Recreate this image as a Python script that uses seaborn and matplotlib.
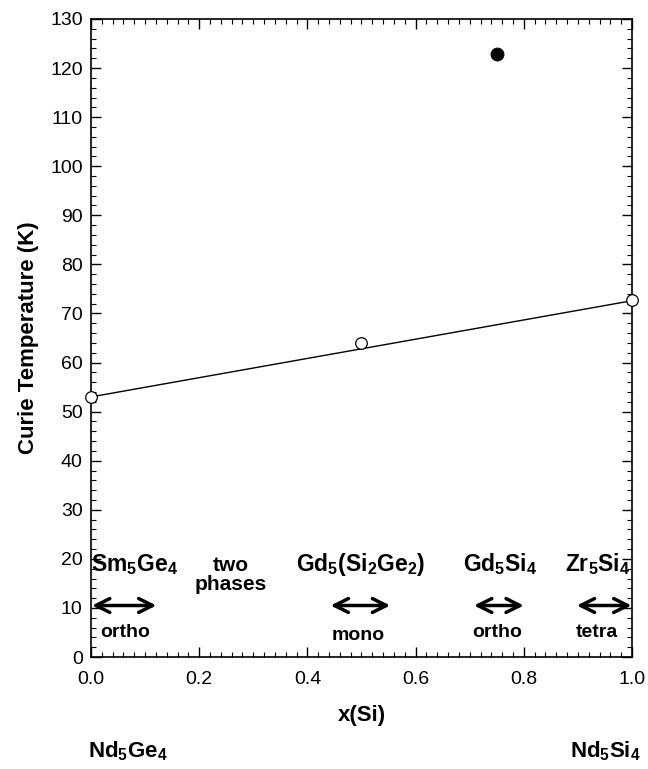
import matplotlib
matplotlib.use("Agg")
import matplotlib.pyplot as plt
import seaborn as sns
from matplotlib.ticker import MultipleLocator, FormatStrFormatter

sns.set_theme(style="white")
plt.rcParams['font.family'] = ['Liberation Sans', 'DejaVu Sans']
plt.rcParams['mathtext.fontset'] = 'custom'
plt.rcParams['mathtext.rm'] = 'Liberation Sans'
plt.rcParams['mathtext.bf'] = 'Liberation Sans:bold'
plt.rcParams['text.color'] = 'black'
plt.rcParams['axes.labelcolor'] = 'black'
plt.rcParams['xtick.color'] = 'black'
plt.rcParams['ytick.color'] = 'black'

# data
x_open = [0.0, 0.5, 1.0]
tc_open = [53.0, 64.0, 72.8]
x_filled = [0.75]
tc_filled = [122.8]
fit_x = [0.0, 1.0]
fit_y = [53.0, 72.6]

phase_names = [r"$\mathbf{Sm_5Ge_4}$", r"$\mathbf{Gd_5(Si_2Ge_2)}$",
               r"$\mathbf{Gd_5Si_4}$", r"$\mathbf{Zr_5Si_4}$"]
phase_x = [0.081, 0.499, 0.757, 0.937]
two_phase_label = "two\nphases"
two_phase_x = 0.258
struct_names = ["ortho", "mono", "ortho", "tetra"]
struct_x = [0.063, 0.494, 0.75, 0.936]
struct_y = [4.0, 3.5, 4.0, 4.0]
arrow_ranges = [(0.002, 0.121), (0.443, 0.553), (0.708, 0.800), (0.898, 0.999)]
arrow_y = 10.5

fig = plt.figure(figsize=(6.48, 7.69), dpi=100)
ax = fig.add_axes([0.1404, 0.1456, 0.8349, 0.8297])

sns.lineplot(x=fit_x, y=fit_y, ax=ax, color="black", lw=1.0)
sns.scatterplot(x=x_open, y=tc_open, ax=ax, s=70, facecolor="white",
                edgecolor="black", linewidth=0.9, zorder=5, clip_on=False)
sns.scatterplot(x=x_filled, y=tc_filled, ax=ax, s=85, color="black",
                edgecolor="black", zorder=5, clip_on=False)

ax.set_xlim(0, 1.0)
ax.set_ylim(0, 130)
ax.xaxis.set_major_locator(MultipleLocator(0.2))
ax.xaxis.set_minor_locator(MultipleLocator(0.02))
ax.yaxis.set_major_locator(MultipleLocator(10))
ax.yaxis.set_minor_locator(MultipleLocator(2))
ax.xaxis.set_major_formatter(FormatStrFormatter("%.1f"))
ax.tick_params(which="both", direction="in", top=True, right=True,
               bottom=True, left=True, color="black")
ax.tick_params(which="major", length=7, width=1, labelsize=14)
ax.tick_params(which="minor", length=3.5, width=0.8)
ax.tick_params(axis="x", which="major", pad=10)
ax.tick_params(axis="y", which="major", pad=6)
for sp in ax.spines.values():
    sp.set_color("black")
    sp.set_linewidth(1.2)

ax.set_xlabel("x(Si)", fontsize=16, fontweight="bold", labelpad=12)
ax.set_ylabel("Curie Temperature (K)", fontsize=16, fontweight="bold", labelpad=8)

for name, xv in zip(phase_names, phase_x):
    ax.text(xv, 17.6, name, ha="center", va="baseline", fontsize=16.5)
ax.text(two_phase_x, 17.6, "two", ha="center", va="baseline", fontsize=15, fontweight="bold")
ax.text(two_phase_x, 13.7, "phases", ha="center", va="baseline", fontsize=15, fontweight="bold")
for name, xv, yv in zip(struct_names, struct_x, struct_y):
    ax.text(xv, yv, name, ha="center", va="baseline", fontsize=14, fontweight="bold")
for x0, x1 in arrow_ranges:
    ax.annotate("", xy=(x0, arrow_y), xytext=(x1, arrow_y),
                arrowprops=dict(arrowstyle="<->,head_length=0.5,head_width=0.25",
                                color="black", lw=2.5,
                                mutation_scale=20, shrinkA=0, shrinkB=0))

fig.text(128 / 648, 1 - 757 / 769, r"$\mathbf{Nd_5Ge_4}$", ha="center", va="baseline", fontsize=16)
fig.text(605 / 648, 1 - 757 / 769, r"$\mathbf{Nd_5Si_4}$", ha="center", va="baseline", fontsize=16)

fig.savefig("out.png", dpi=100)
